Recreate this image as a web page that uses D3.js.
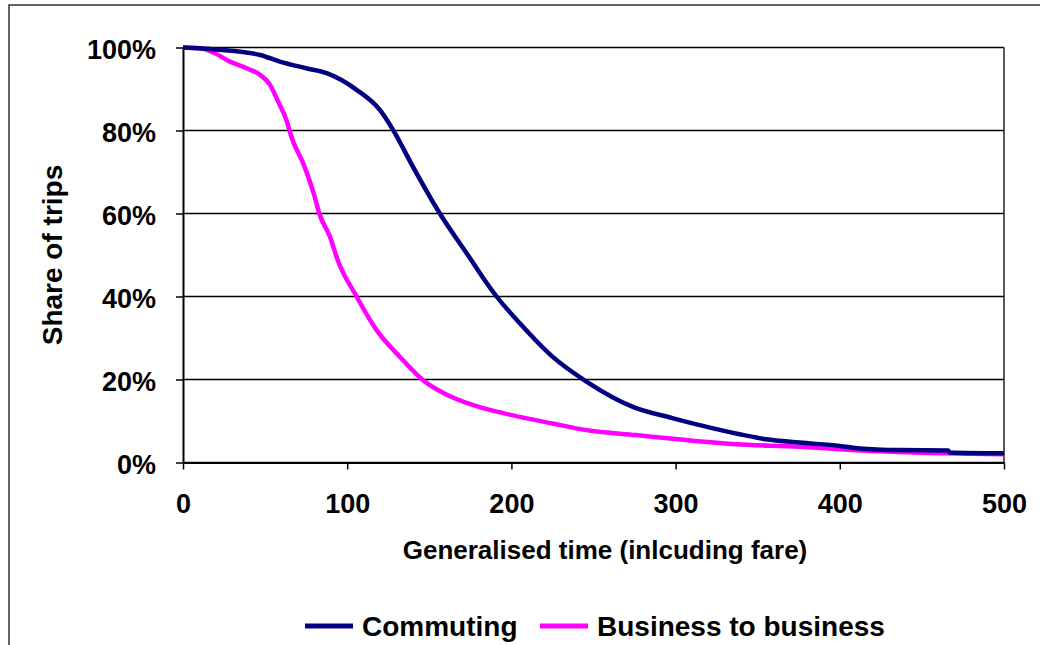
<!DOCTYPE html>
<html>
<head>
<meta charset="utf-8">
<script src="https://cdn.jsdelivr.net/npm/d3@7"></script>
<style>
  html, body { margin: 0; padding: 0; background: #fff; }
  svg { display: block; font-family: "Liberation Sans", Arial, sans-serif; font-weight: bold; }
</style>
</head>
<body>
<svg id="chart" width="1040" height="645"></svg>
<script>
// Cumulative share of trips remaining by generalised time
const commutingTime  = [0, 20, 47, 59, 75, 87.5, 105.7, 120, 128, 140, 156.4, 174.7, 182.6, 191, 205, 225, 245.7, 274, 298, 314.7, 339, 355, 375.5, 400, 412, 436, 466, 467, 500];
const commutingShare = [100, 99.5, 98.2, 96.6, 95.0, 93.8, 89.8, 84.9, 80.1, 71.3, 60.0, 49.3, 44.6, 40.0, 33.6, 25.5, 19.5, 13.4, 10.7, 9.0, 6.8, 5.6, 4.8, 4.0, 3.4, 3.0, 2.9, 2.4, 2.2];

const businessTime  = [0, 10.4, 18.4, 28.6, 38.8, 47, 53, 58, 63, 66, 74, 80, 83, 89.5, 94, 105.7, 117.9, 132, 146, 163, 182.8, 195, 225, 245.7, 276, 306.5, 337, 375.5, 400, 436, 500];
const businessShare = [100, 99.8, 98.8, 96.6, 95.0, 93.4, 91.0, 86.9, 82.5, 78.5, 71.3, 64.3, 60.0, 54.4, 49.0, 40.0, 31.9, 25.5, 19.9, 15.9, 13.1, 11.9, 9.4, 7.8, 6.6, 5.4, 4.4, 3.8, 3.2, 2.5, 2.0];

const xTicks = [0, 100, 200, 300, 400, 500];
const yTicks = [0, 20, 40, 60, 80, 100];

const seriesNames  = ["Commuting", "Business to business"];
const seriesColors = ["#000080", "#FF00FF"];

const svg = d3.select("#chart");

const plot = { left: 183, right: 1004, top: 47.5, bottom: 462.5 };

const x = d3.scaleLinear().domain([0, 500]).range([plot.left, plot.right]);
const y = d3.scaleLinear().domain([0, 100]).range([plot.bottom, plot.top]);

// Outer chart frame (left and top edges)
svg.append("path")
  .attr("d", "M9,645 L9,5 L1040,5")
  .attr("fill", "none")
  .attr("stroke", "#333")
  .attr("stroke-width", 1.5);

// Horizontal gridlines
svg.append("g")
  .selectAll("line")
  .data(yTicks)
  .join("line")
  .attr("x1", plot.left).attr("x2", plot.right)
  .attr("y1", d => y(d)).attr("y2", d => y(d))
  .attr("stroke", "#000").attr("stroke-width", 1.3);

// Plot area border on the right
svg.append("line")
  .attr("x1", plot.right).attr("x2", plot.right)
  .attr("y1", plot.top).attr("y2", plot.bottom)
  .attr("stroke", "#000").attr("stroke-width", 1.3);

// Axes
const xAxis = svg.append("g")
  .attr("transform", `translate(0,${plot.bottom})`)
  .call(d3.axisBottom(x).tickValues(xTicks).tickSize(7).tickSizeOuter(0).tickPadding(24));
const yAxis = svg.append("g")
  .attr("transform", `translate(${plot.left},0)`)
  .call(d3.axisLeft(y).tickValues(yTicks).tickSize(7).tickSizeOuter(0).tickPadding(20)
    .tickFormat(d => d + "%"));

[xAxis, yAxis].forEach(g => {
  g.select(".domain").attr("stroke", "#000").attr("stroke-width", 2);
  g.selectAll(".tick line").attr("stroke", "#000").attr("stroke-width", 1.5);
  g.selectAll(".tick text")
    .attr("fill", "#000")
    .style("font-size", "27px")
    .style("font-weight", "bold")
    .style("font-family", "'Liberation Sans', Arial, sans-serif");
});
yAxis.selectAll(".tick text").attr("dy", "0.4em");

// Curves
const line = d3.line().x(d => x(d[0])).y(d => y(d[1])).curve(d3.curveMonotoneX);
const series = [
  d3.zip(commutingTime, commutingShare),
  d3.zip(businessTime, businessShare)
];

svg.append("g")
  .selectAll("path")
  .data([1, 0])
  .join("path")
  .attr("d", i => line(series[i]))
  .attr("fill", "none")
  .attr("stroke", i => seriesColors[i])
  .attr("stroke-width", 4.5)
  .attr("stroke-linejoin", "round");

// Axis titles
svg.append("text")
  .attr("x", 605).attr("y", 559)
  .attr("text-anchor", "middle")
  .style("font-size", "26px")
  .text("Generalised time (inlcuding fare)");

svg.append("text")
  .attr("transform", `translate(62,${(plot.top + plot.bottom) / 2}) rotate(-90)`)
  .attr("text-anchor", "middle")
  .style("font-size", "28px")
  .text("Share of trips");

// Legend
const legendItems = [
  { x: 305, name: seriesNames[0], color: seriesColors[0] },
  { x: 540, name: seriesNames[1], color: seriesColors[1] }
];
const legend = svg.append("g").selectAll("g").data(legendItems).join("g")
  .attr("transform", d => `translate(${d.x},626)`);
legend.append("line")
  .attr("x1", 0).attr("x2", 48).attr("y1", 0).attr("y2", 0)
  .attr("stroke", d => d.color).attr("stroke-width", 5);
legend.append("text")
  .attr("x", 57).attr("y", 10)
  .style("font-size", "28px")
  .text(d => d.name);
</script>
</body>
</html>
